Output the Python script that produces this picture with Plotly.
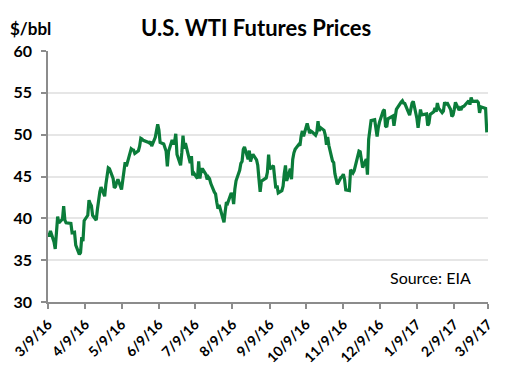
import plotly.graph_objects as go

dates = [
    "2016-03-09","2016-03-10","2016-03-11","2016-03-14","2016-03-15","2016-03-16","2016-03-17","2016-03-18",
    "2016-03-21","2016-03-22","2016-03-23","2016-03-24","2016-03-28","2016-03-29","2016-03-30","2016-03-31",
    "2016-04-01","2016-04-04","2016-04-05","2016-04-06","2016-04-07","2016-04-08","2016-04-11","2016-04-12",
    "2016-04-13","2016-04-14","2016-04-15","2016-04-18","2016-04-19","2016-04-20","2016-04-21","2016-04-22",
    "2016-04-25","2016-04-26","2016-04-27","2016-04-28","2016-04-29",
    "2016-05-02","2016-05-03","2016-05-04","2016-05-05","2016-05-06","2016-05-09","2016-05-10","2016-05-11",
    "2016-05-12","2016-05-13","2016-05-16","2016-05-17","2016-05-18","2016-05-19","2016-05-20","2016-05-23",
    "2016-05-24","2016-05-25","2016-05-26","2016-05-27","2016-05-31",
    "2016-06-01","2016-06-02","2016-06-03","2016-06-06","2016-06-07","2016-06-08","2016-06-09","2016-06-10",
    "2016-06-13","2016-06-14","2016-06-15","2016-06-16","2016-06-17","2016-06-20","2016-06-21","2016-06-22",
    "2016-06-23","2016-06-24","2016-06-27","2016-06-28","2016-06-29","2016-06-30",
    "2016-07-01","2016-07-05","2016-07-06","2016-07-07","2016-07-08","2016-07-11","2016-07-12","2016-07-13",
    "2016-07-14","2016-07-15","2016-07-18","2016-07-19","2016-07-20","2016-07-21","2016-07-22","2016-07-25",
    "2016-07-26","2016-07-27","2016-07-28","2016-07-29",
    "2016-08-01","2016-08-02","2016-08-03","2016-08-04","2016-08-05","2016-08-08","2016-08-09","2016-08-10",
    "2016-08-11","2016-08-12","2016-08-15","2016-08-16","2016-08-17","2016-08-18","2016-08-19","2016-08-22",
    "2016-08-23","2016-08-24","2016-08-25","2016-08-26","2016-08-29","2016-08-30","2016-08-31",
    "2016-09-01","2016-09-02","2016-09-06","2016-09-07","2016-09-08","2016-09-09","2016-09-12","2016-09-13",
    "2016-09-14","2016-09-15","2016-09-16","2016-09-19","2016-09-20","2016-09-21","2016-09-22","2016-09-23",
    "2016-09-26","2016-09-27","2016-09-28","2016-09-29","2016-09-30",
    "2016-10-03","2016-10-04","2016-10-05","2016-10-06","2016-10-07","2016-10-10","2016-10-11","2016-10-12",
    "2016-10-13","2016-10-14","2016-10-17","2016-10-18","2016-10-19","2016-10-20","2016-10-21","2016-10-24",
    "2016-10-25","2016-10-26","2016-10-27","2016-10-28","2016-10-31",
    "2016-11-01","2016-11-02","2016-11-03","2016-11-04","2016-11-07","2016-11-08","2016-11-09","2016-11-10",
    "2016-11-11","2016-11-14","2016-11-15","2016-11-16","2016-11-17","2016-11-18","2016-11-21","2016-11-22",
    "2016-11-23","2016-11-25","2016-11-28","2016-11-29","2016-11-30",
    "2016-12-01","2016-12-02","2016-12-05","2016-12-06","2016-12-07","2016-12-08","2016-12-09","2016-12-12",
    "2016-12-13","2016-12-14","2016-12-15","2016-12-16","2016-12-19","2016-12-20","2016-12-21","2016-12-22",
    "2016-12-23","2016-12-27","2016-12-28","2016-12-29","2016-12-30",
    "2017-01-03","2017-01-04","2017-01-05","2017-01-06","2017-01-09","2017-01-10","2017-01-11","2017-01-12",
    "2017-01-13","2017-01-17","2017-01-18","2017-01-19","2017-01-20","2017-01-23","2017-01-24","2017-01-25",
    "2017-01-26","2017-01-27","2017-01-30","2017-01-31",
    "2017-02-01","2017-02-02","2017-02-03","2017-02-06","2017-02-07","2017-02-08","2017-02-09","2017-02-10",
    "2017-02-13","2017-02-14","2017-02-15","2017-02-16","2017-02-17","2017-02-21","2017-02-22","2017-02-23",
    "2017-02-24","2017-02-27","2017-02-28",
    "2017-03-01","2017-03-02","2017-03-03","2017-03-06","2017-03-07","2017-03-08",
]

prices = [
    38.29,37.84,38.50,37.18,36.34,38.46,40.20,39.44,
    39.91,41.45,39.79,39.46,39.39,38.28,38.32,38.34,
    36.79,35.70,35.89,37.75,37.26,39.72,40.36,42.17,
    41.76,41.50,40.36,39.78,41.08,42.63,43.18,43.73,
    42.64,44.04,45.33,46.03,45.92,
    44.78,43.65,43.78,44.32,44.66,43.44,44.66,46.23,
    46.70,46.21,47.72,48.31,48.19,48.16,47.75,48.08,
    48.62,49.56,49.48,49.33,49.10,
    49.01,49.17,48.62,49.69,50.36,51.23,50.56,49.07,
    48.88,48.49,48.01,46.21,47.98,49.37,48.85,49.13,
    50.11,47.64,46.33,47.85,49.88,48.33,
    48.99,46.60,47.43,45.14,45.41,44.76,46.80,44.75,
    45.68,45.95,45.24,44.65,44.94,44.75,44.19,43.13,
    42.92,41.92,41.14,41.60,
    40.06,39.51,40.83,41.93,41.80,43.02,42.77,41.71,
    43.49,44.49,45.74,46.58,46.79,48.22,48.52,47.05,
    48.10,46.77,47.33,47.64,46.98,46.35,44.70,
    43.16,44.44,44.83,45.50,47.62,45.88,46.29,44.90,
    43.58,43.91,43.03,43.30,43.85,45.34,46.32,44.48,
    45.93,44.67,47.05,47.83,48.24,
    48.81,48.69,49.83,50.44,49.81,51.35,50.79,50.18,
    50.44,50.35,49.94,50.29,51.60,50.43,50.85,50.52,
    49.96,48.80,49.72,48.70,46.86,
    46.67,45.34,44.66,44.07,44.89,44.98,45.27,44.66,
    43.41,43.32,45.81,45.57,45.42,45.69,47.49,48.03,
    47.96,46.06,47.08,45.23,49.44,
    51.06,51.68,51.79,50.93,49.77,50.84,51.50,52.83,
    52.98,51.04,50.90,51.90,52.12,52.23,51.07,51.98,
    53.02,53.90,54.06,53.77,53.72,
    52.33,53.26,53.76,53.99,51.96,50.82,52.25,53.01,
    52.37,52.48,51.08,51.37,52.42,52.75,53.18,52.75,
    53.78,53.17,52.63,52.81,
    53.88,53.54,53.83,53.01,52.17,52.34,53.00,53.86,
    52.93,53.20,53.11,53.36,53.40,54.06,53.59,54.45,
    53.99,54.04,54.01,
    53.83,52.61,53.33,53.20,53.14,50.28,
]

tick_dates = ["2016-03-09","2016-04-09","2016-05-09","2016-06-09","2016-07-09","2016-08-09",
              "2016-09-09","2016-10-09","2016-11-09","2016-12-09","2017-01-09","2017-02-09","2017-03-09"]
tick_labels = ["3/9/16","4/9/16","5/9/16","6/9/16","7/9/16","8/9/16","9/9/16","10/9/16",
               "11/9/16","12/9/16","1/9/17","2/9/17","3/9/17"]
y_ticks = [30, 35, 40, 45, 50, 55, 60]

FONT = "Lato"
fig = go.Figure()
fig.add_trace(go.Scatter(x=dates, y=prices, mode="lines",
                         line=dict(color="#0b7c3a", width=3.2), showlegend=False))

# page body adds an ~8px offset, so margins are shifted to compensate
fig.update_layout(
    width=519, height=375,
    margin=dict(l=40, r=39, t=43, b=81),
    paper_bgcolor="white", plot_bgcolor="white",
    font=dict(family=FONT, color="black"),
    xaxis=dict(
        type="date", range=["2016-03-09", "2017-03-09"], automargin=False,
        tickvals=tick_dates, ticktext=tick_labels, tickangle=-45,
        tickfont=dict(family=FONT, size=14, color="black", weight="bold"),
        ticklabelstandoff=2,
        showgrid=False, showline=True, linecolor="#8c8c8c", linewidth=1.5,
        ticks="outside", ticklen=5, tickcolor="#8c8c8c", tickwidth=1.5, zeroline=False,
    ),
    yaxis=dict(
        range=[30, 60], tickvals=y_ticks, automargin=False,
        tickfont=dict(family=FONT, size=16, color="black", weight="bold"),
        ticklabelstandoff=6,
        showgrid=True, gridcolor="#e6e6e6", gridwidth=1.5,
        showline=True, linecolor="#8c8c8c", linewidth=1.5,
        ticks="outside", ticklen=5, tickcolor="#8c8c8c", tickwidth=1.5, zeroline=False,
    ),
    annotations=[
        dict(text="<b>U.S. WTI Futures Prices</b>", xref="paper", yref="paper",
             x=(256-48)/440, y=1 + (51-27)/251, xanchor="center", yanchor="middle",
             showarrow=False, font=dict(family=FONT, size=22, color="black")),
        dict(text="<b>$/bbl</b>", xref="paper", yref="paper",
             x=-(48-8)/440, y=1 + (51-28)/251, xanchor="left", yanchor="middle",
             showarrow=False, font=dict(family=FONT, size=17, color="black")),
        dict(text="Source: EIA", xref="paper", yref="paper",
             x=(473-48)/440, y=(302-277)/251, xanchor="right", yanchor="middle",
             showarrow=False, font=dict(family=FONT, size=16, color="black")),
    ],
)

fig.write_html("out.html")
